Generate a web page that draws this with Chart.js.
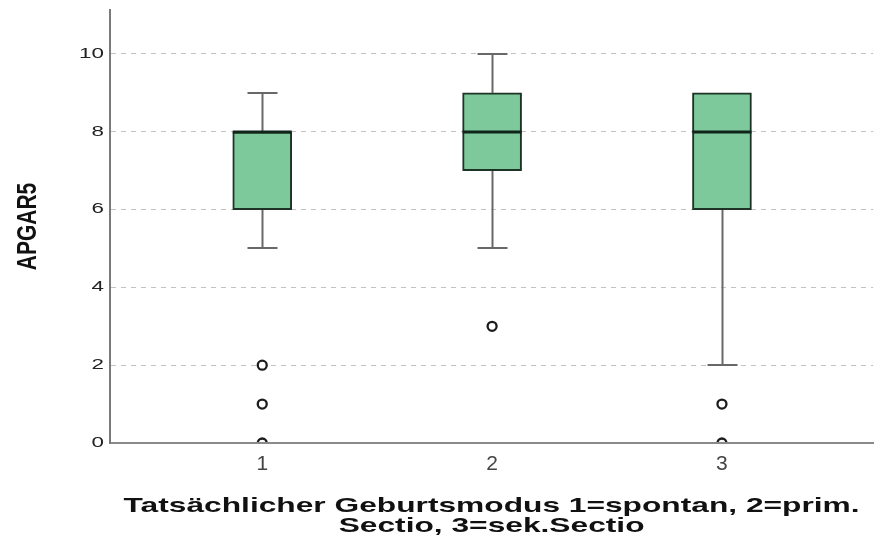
<!DOCTYPE html>
<html><head><meta charset="utf-8">
<script src="https://cdn.jsdelivr.net/npm/chart.js@4"></script>
<style>html,body{margin:0;padding:0;background:#fff}canvas{display:block}</style>
</head><body>
<canvas id="c" width="880" height="544"></canvas>
<script>
// ---- data ----
const categories = ['1', '2', '3'];
const positions = [1, 2, 3];
const whiskerLow = [5, 5, 2];
const q1 = [6, 7, 6];
const medians = [8, 8, 8];
const q3 = [8, 9, 9];
const whiskerHigh = [9, 10, 9];
const outliers = [[2, 1, 0], [3], [1, 0]];
const yTicks = [0, 2, 4, 6, 8, 10];
const yTitle = 'APGAR5';
const xTitle = ['Tatsächlicher Geburtsmodus 1=spontan, 2=prim.', 'Sectio, 3=sek.Sectio'];

// ---- styles ----
const BOX_W = 59, CAP_W = 30;
const FONT = "'Liberation Sans', Arial, Helvetica, sans-serif";
const Y_TITLE_X = 28;

const boxData = positions.map((p, i) => ({ x: p, y: [q1[i], q3[i]] }));
const outlierData = [];
positions.forEach((p, i) => outliers[i].forEach(v => outlierData.push({ x: p, y: v })));

function stretch(ctx, cx, sx, fn) {
  ctx.save(); ctx.translate(cx, 0); ctx.scale(sx, 1); ctx.translate(-cx, 0); fn(); ctx.restore();
}

const stretchPlugin = {
  id: 'stretch',
  beforeDraw(chart) {
    const ctx = chart.ctx, xs = chart.scales.x, ys = chart.scales.y;
    if (!xs.__patched) {
      xs.__patched = true;
      const o = xs.drawTitle;
      xs.drawTitle = function (...a) { stretch(ctx, (xs.left + xs.right) / 2, 1.51, () => o.apply(xs, a)); };
    }
    if (!ys.__patched) {
      ys.__patched = true;
      const ot = ys.drawTitle, ol = ys.drawLabels;
      ys.drawTitle = function (...a) { stretch(ctx, Y_TITLE_X, 1.3, () => ot.apply(ys, a)); };
      ys.drawLabels = function (...a) { stretch(ctx, ys.right - 6, 1.6, () => ol.apply(ys, a)); };
    }
  }
};

const boxPlugin = {
  id: 'boxparts',
  beforeDatasetsDraw(chart) {
    const { ctx, scales: { x, y } } = chart;
    ctx.save();
    ctx.strokeStyle = '#686868'; ctx.lineWidth = 2; ctx.lineCap = 'butt';
    positions.forEach((p, i) => {
      const cx = Math.round(x.getPixelForValue(p)) + 0.5;
      [[whiskerLow[i], q1[i]], [q3[i], whiskerHigh[i]]].forEach(([a, b]) => {
        if (a === b) return;
        ctx.beginPath(); ctx.moveTo(cx, y.getPixelForValue(a)); ctx.lineTo(cx, y.getPixelForValue(b)); ctx.stroke();
      });
      [[whiskerLow[i], q1[i]], [whiskerHigh[i], q3[i]]].forEach(([v, edge]) => {
        if (v === edge) return;
        const py = Math.round(y.getPixelForValue(v));
        ctx.beginPath(); ctx.moveTo(cx - CAP_W / 2, py); ctx.lineTo(cx + CAP_W / 2, py); ctx.stroke();
      });
    });
    ctx.restore();
  },
  beforeDatasetDraw(chart, args) {
    if (args.index !== 1) return;
    const a = chart.chartArea, ctx = chart.ctx;
    ctx.save();
    ctx.beginPath(); ctx.rect(a.left, a.top, a.right - a.left, a.bottom - a.top - 1); ctx.clip();
  },
  afterDatasetDraw(chart, args) {
    const { ctx, scales: { x, y } } = chart;
    if (args.index === 1) { ctx.restore(); return; }
    if (args.index !== 0) return;
    ctx.save();
    ctx.strokeStyle = '#10251a'; ctx.lineWidth = 3;
    positions.forEach((p, i) => {
      const cx = x.getPixelForValue(p);
      const py = Math.round(y.getPixelForValue(medians[i]));
      ctx.beginPath(); ctx.moveTo(cx - BOX_W / 2, py); ctx.lineTo(cx + BOX_W / 2, py); ctx.stroke();
    });
    ctx.restore();
  }
};

new Chart(document.getElementById('c'), {
  type: 'bar',
  data: {
    datasets: [
      { type: 'bar', data: boxData, backgroundColor: '#7dc99c', borderColor: '#1d3325', borderWidth: 2,
        borderSkipped: false, barThickness: BOX_W, order: 2 },
      { type: 'scatter', data: outlierData, pointStyle: 'circle', pointRadius: 4.5, pointBorderWidth: 2.3,
        pointBorderColor: '#1c1c1c', pointBackgroundColor: '#ffffff', clip: 0, order: 1 }
    ]
  },
  options: {
    responsive: false, animation: false, devicePixelRatio: 1,
    layout: { padding: { top: 10, right: 3, left: 0, bottom: 0 } },
    plugins: { legend: { display: false }, tooltip: { enabled: false } },
    scales: {
      x: {
        type: 'linear', min: 0.3377, max: 3.658, offset: false,
        afterBuildTicks: s => { s.ticks = positions.map(v => ({ value: v })); },
        afterFit: s => { s.height = 101; s.paddingLeft = 0; s.paddingRight = 0; },
        grid: { display: false, drawTicks: false },
        border: { display: true, color: '#8a8a8a', width: 2 },
        ticks: { padding: 9, color: '#444', maxRotation: 0, autoSkip: false,
          font: { family: FONT, size: 21 },
          callback: v => { const k = positions.indexOf(v); return k >= 0 ? categories[k] : ''; } },
        title: { display: true, text: xTitle, color: '#111',
          font: { family: FONT, size: 21, weight: 'bold', lineHeight: 0.95 }, padding: { top: 0, bottom: 8 } }
      },
      y: {
        type: 'linear', min: 0, max: 11.13,
        afterBuildTicks: s => { s.ticks = yTicks.map(v => ({ value: v })); },
        afterFit: s => { s.width = 110; s.paddingTop = 0; s.paddingBottom = 0; },
        grid: { drawTicks: false, lineWidth: 1,
          color: c => (c.tick && c.tick.value === 0) ? 'rgba(0,0,0,0)' : '#c2c2c2' },
        border: { display: true, color: '#7a7a7a', width: 2, dash: [5, 5] },
        ticks: { padding: 6, color: '#222', font: { family: FONT, size: 14 } },
        title: { display: true, text: yTitle, color: '#111',
          font: { family: FONT, size: 21, weight: 'bold', lineHeight: 1.2 }, padding: { top: Y_TITLE_X - 12.6, bottom: 0 } }
      }
    }
  },
  plugins: [stretchPlugin, boxPlugin]
});
</script>
</body></html>
